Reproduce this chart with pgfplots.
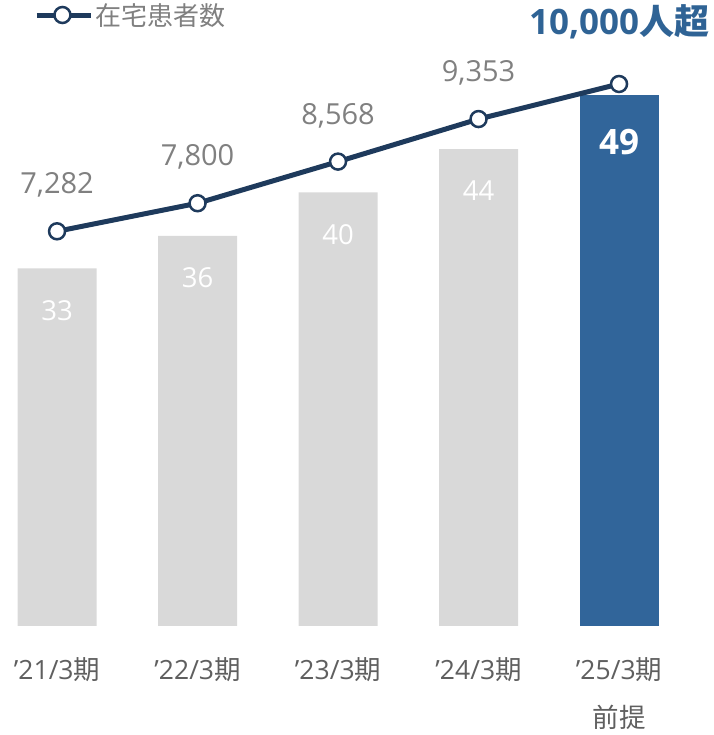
\documentclass[border=0pt]{standalone}
\usepackage{pgfplots}
\pgfplotsset{compat=1.18}
\usepackage{pgfplotstable}
\usepackage{fontspec}
\setmainfont{Open Sans}
\newfontfamily\jp{Noto Sans CJK JP}
\definecolor{bargray}{HTML}{D9D9D9}
\definecolor{barblue}{HTML}{31659A}
\definecolor{navy}{HTML}{1E3A5C}
\definecolor{lblgray}{HTML}{808080}
\definecolor{tickgray}{HTML}{5F5F5F}
\definecolor{titleblue}{HTML}{2F6395}

\pgfplotstableread{
x pat
0 33
1 36
2 40
3 44
}\bargraydata
\pgfplotstableread{
x pat
4 49
}\barlastdata
\pgfplotstableread{
x v lab
0 7282 7,282
1 7800 7,800
2 8568 8,568
3 9353 9,353
4 10000 {}
}\linedata

\begin{document}
\begin{tikzpicture}
\pgfplotsset{
  common/.style={
    at={(0pt,109pt)}, anchor=south west,
    x=140.5pt,
    xmin=-0.406, xmax=4.669,
    axis line style={draw=none},
    major tick length=0pt,
    ytick=\empty,
    clip=false,
    /pgf/number format/assume math mode=true,
  }
}
\begin{axis}[common,
  y=10.84pt, ymin=0, ymax=57.75,
  xtick={0,1,2,3,4},
  xticklabels={{'21/3\jp 期},{'22/3\jp 期},{'23/3\jp 期},{'24/3\jp 期},{'25/3\jp 期\\\jp 前提}},
  xticklabel style={font=\fontsize{26.5}{48}\selectfont, text=tickgray, align=center, anchor=north, inner sep=0pt, yshift=-31pt},
]
\addplot[ybar, bar width=79pt, bar shift=0pt, fill=bargray, draw=none,
  nodes near coords,
  every node near coord/.append style={font=\fontsize{27.5}{27.5}\selectfont, text=white, anchor=center, yshift=-42pt}]
  table[x=x,y=pat] {\bargraydata};
\addplot[ybar, bar width=79pt, bar shift=0pt, fill=barblue, draw=none,
  nodes near coords,
  every node near coord/.append style={font=\fontsize{35}{35}\selectfont\bfseries, text=white, anchor=center, yshift=-47pt}]
  table[x=x,y=pat] {\barlastdata};
\end{axis}
\begin{axis}[common,
  y=0.0542pt, ymin=0, ymax=11550,
  xtick=\empty,
  legend style={at={(axis description cs:0.048,0.976)}, anchor=west, draw=none, fill=none, font=\fontsize{26}{26}\selectfont\jp, text=lblgray, inner sep=0pt},
  legend image code/.code={\path (0pt,0pt) -- (54pt,0pt); \draw[navy, line width=5pt] (0pt,0pt) -- (51pt,0pt); \draw[navy, line width=2.5pt, fill=white] (25.5pt,0pt) circle (8pt);},
]
\addplot[navy, line width=5pt, mark=*, mark size=8pt,
  mark options={fill=white, draw=navy, line width=2.5pt},
  nodes near coords, point meta=explicit symbolic,
  every node near coord/.append style={font=\fontsize{29}{29}\selectfont, text=lblgray, anchor=center, yshift=46pt}]
  table[x=x, y=v, meta=lab] {\linedata};
\addlegendentry{在宅患者数}
\node[font=\fontsize{35}{35}\selectfont\bfseries, text=titleblue] at (axis cs:4,11144) {10,000\jp 人超};
\end{axis}
\pgfresetboundingbox
\useasboundingbox (0,0) rectangle (713pt,735pt);
\end{tikzpicture}
\end{document}
